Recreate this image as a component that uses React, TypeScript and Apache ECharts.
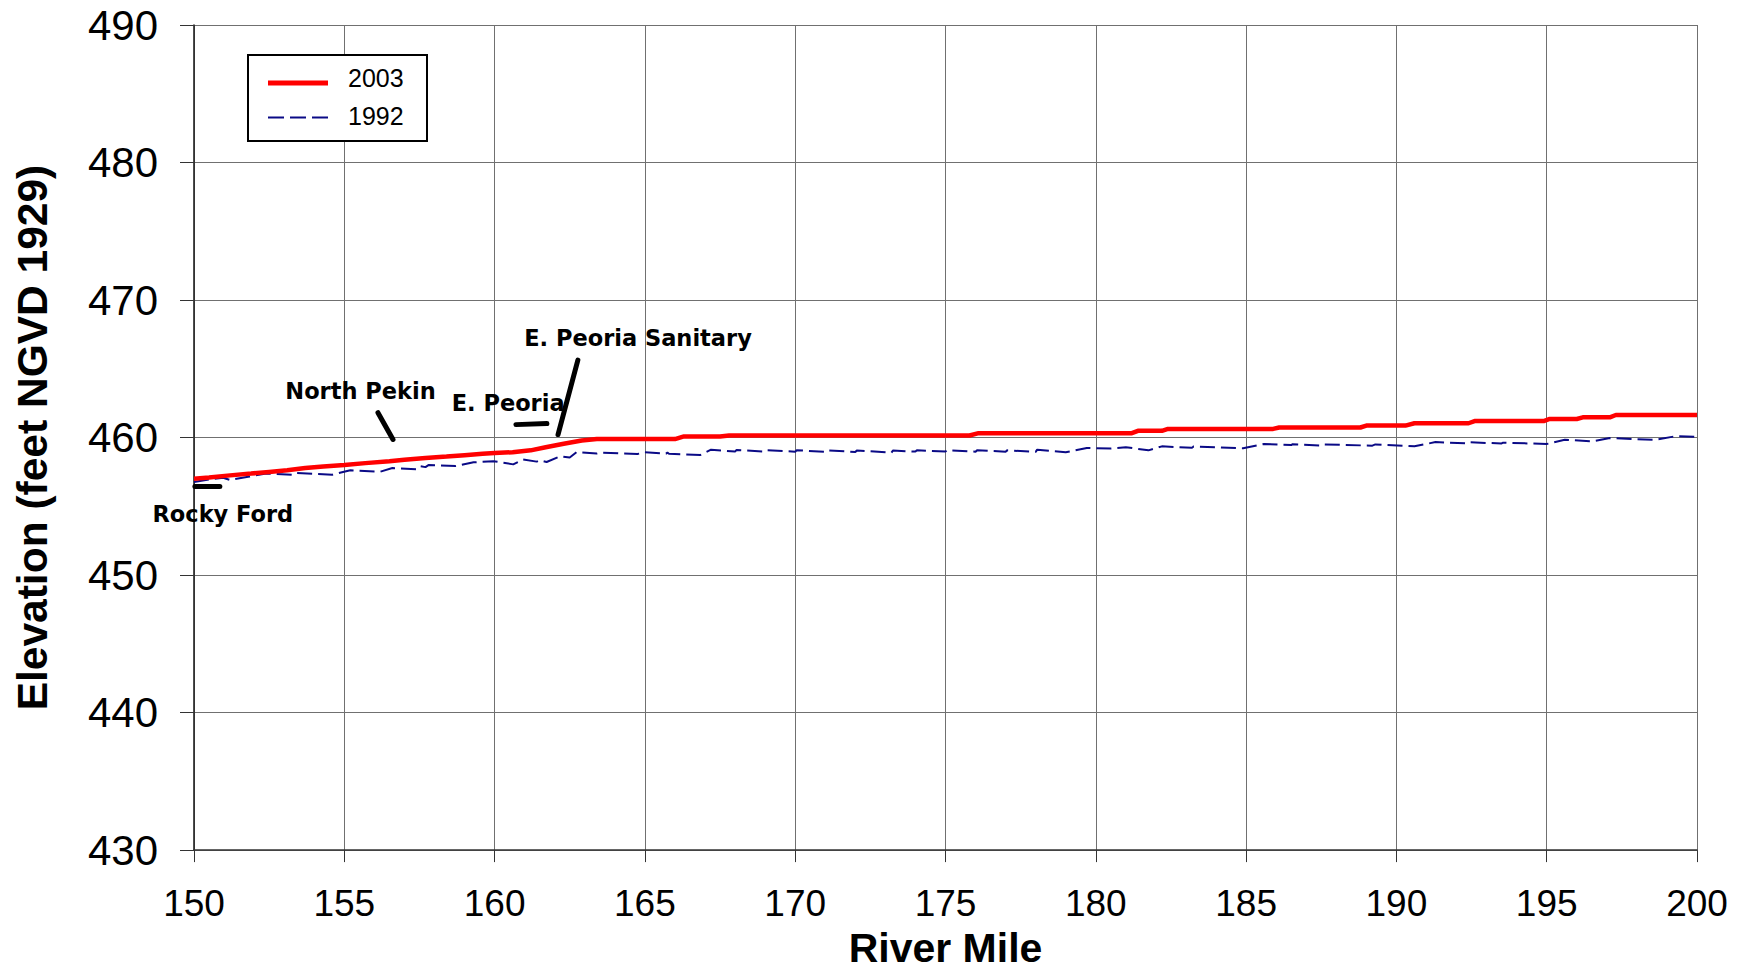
import React, { useEffect, useRef } from "react";
import * as echarts from "echarts";

const xMin = 150;
const xMax = 200;
const xStep = 5;
const yMin = 430;
const yMax = 490;
const yStep = 10;

const seriesNames = ["2003", "1992"];

// 2003 profile: [river mile, elevation]
const elev2003: [number, number][] = [
  [150.0, 457.0], [150.5, 457.1], [151.2, 457.25], [151.9, 457.38], [152.5, 457.5],
  [153.1, 457.62], [153.7, 457.78], [154.3, 457.9], [155.0, 458.0], [155.7, 458.14],
  [156.5, 458.28], [157.0, 458.38], [157.7, 458.52], [158.4, 458.62], [159.0, 458.72],
  [159.6, 458.82], [160.0, 458.88], [160.6, 458.93], [161.2, 459.07], [161.7, 459.3],
  [162.3, 459.55], [162.9, 459.78], [163.4, 459.89], [166.0, 459.89], [166.3, 460.08],
  [167.5, 460.08], [167.8, 460.15], [175.8, 460.15], [176.1, 460.32], [181.2, 460.32],
  [181.4, 460.49], [182.2, 460.49], [182.4, 460.63], [185.9, 460.63], [186.1, 460.73],
  [188.8, 460.73], [189.0, 460.87], [190.3, 460.87], [190.6, 461.04], [192.4, 461.04],
  [192.6, 461.2], [194.9, 461.2], [195.1, 461.35], [196.0, 461.35], [196.2, 461.47],
  [197.1, 461.47], [197.3, 461.64], [200.0, 461.64],
];

// 1992 profile: [river mile, elevation]
const elev1992: [number, number][] = [
  [150.0, 456.76], [150.5, 456.95], [150.97, 457.08], [151.19, 456.92], [151.8, 457.15],
  [152.4, 457.39], [153.3, 457.28], [153.4, 457.42], [154.6, 457.3], [155.2, 457.62],
  [156.2, 457.52], [156.6, 457.78], [157.4, 457.7], [157.5, 457.92], [157.7, 457.85],
  [157.8, 458.0], [158.7, 457.93], [159.3, 458.2], [159.96, 458.28], [160.62, 458.05],
  [160.95, 458.4], [161.4, 458.25], [161.5, 458.35], [161.73, 458.22], [162.18, 458.64],
  [162.5, 458.55], [162.73, 458.95], [163.4, 458.84], [163.5, 458.9], [164.75, 458.8],
  [165.0, 458.93], [165.7, 458.83], [165.75, 458.9], [165.8, 458.82], [166.85, 458.74],
  [167.2, 459.12], [168.0, 458.98], [168.05, 459.1], [169.0, 458.98], [169.05, 459.08],
  [170.0, 458.97], [170.05, 459.08], [171.0, 458.96], [171.05, 459.07], [172.0, 458.95],
  [172.05, 459.06], [173.2, 458.9], [173.25, 459.05], [174.0, 458.98], [174.05, 459.08],
  [175.0, 458.98], [175.05, 459.08], [176.0, 458.97], [176.05, 459.08], [177.0, 458.97],
  [177.05, 459.07], [178.0, 458.96], [178.05, 459.12], [179.0, 458.93], [179.7, 459.24],
  [180.5, 459.2], [181.0, 459.3], [181.75, 459.07], [182.2, 459.36], [183.2, 459.25],
  [183.25, 459.35], [184.9, 459.22], [185.6, 459.53], [186.5, 459.45], [186.55, 459.52],
  [187.5, 459.42], [187.55, 459.5], [189.2, 459.41], [189.3, 459.5], [190.6, 459.36],
  [191.3, 459.67], [192.3, 459.58], [192.35, 459.66], [193.5, 459.57], [193.55, 459.63],
  [195.0, 459.53], [195.6, 459.84], [196.5, 459.72], [197.1, 459.96], [198.0, 459.88],
  [198.6, 459.84], [199.3, 460.1], [200.0, 460.05],
];

// Site labels: [text, mile, elevation] (text centre)
const siteLabels: [string, number, number][] = [
  ["Rocky Ford", 150.96, 454.46],
  ["North Pekin", 155.54, 463.4],
  ["E. Peoria", 160.45, 462.53],
  ["E. Peoria Sanitary", 164.77, 467.22],
];

// Leader lines: [mile1, elev1, mile2, elev2]
const leaders: [number, number, number, number][] = [
  [150.03, 456.44, 150.86, 456.44],
  [156.12, 461.81, 156.62, 459.86],
  [160.71, 460.94, 161.74, 461.02],
  [162.77, 465.63, 162.11, 460.22],
];

const redColor = "#ff0000";
const blueColor = "#0a0a86";

export default function App() {
  const ref = useRef<HTMLDivElement>(null);

  useEffect(() => {
    if (!ref.current) return;
    const chart = echarts.init(ref.current, null, { renderer: "svg" });
    const axisFont = "Liberation Sans, Arial, sans-serif";
    chart.setOption({
      animation: false,
      backgroundColor: "#ffffff",
      grid: { left: 194, top: 25, right: 46, bottom: 116, containLabel: false },
      xAxis: {
        type: "value",
        min: xMin,
        max: xMax,
        interval: xStep,
        name: "River Mile",
        nameLocation: "middle",
        nameGap: 75,
        nameTextStyle: { fontFamily: axisFont, fontWeight: "bold", fontSize: 41, color: "#000" },
        axisLine: { show: true, onZero: false, lineStyle: { color: "#333", width: 1.6 } },
        axisTick: { show: true, length: 12, lineStyle: { color: "#333", width: 1 } },
        axisLabel: { fontFamily: axisFont, fontSize: 37, color: "#000", margin: 35 },
        splitLine: { show: true, lineStyle: { color: "#707070", width: 1 } },
      },
      yAxis: {
        type: "value",
        min: yMin,
        max: yMax,
        interval: yStep,
        name: "Elevation (feet NGVD 1929)",
        nameLocation: "middle",
        nameGap: 140,
        nameTextStyle: { fontFamily: axisFont, fontWeight: "bold", fontSize: 42.5, color: "#000" },
        axisLine: { show: true, onZero: false, lineStyle: { color: "#222", width: 1.6 } },
        axisTick: { show: true, length: 14, lineStyle: { color: "#333", width: 1 } },
        axisLabel: { fontFamily: axisFont, fontSize: 42, color: "#000", margin: 36 },
        splitLine: { show: true, lineStyle: { color: "#707070", width: 1 } },
      },
      series: [
        {
          name: seriesNames[0],
          type: "line",
          data: elev2003,
          showSymbol: false,
          symbol: "none",
          lineStyle: { color: redColor, width: 4.5 },
          z: 3,
        },
        {
          name: seriesNames[1],
          type: "line",
          data: elev1992,
          showSymbol: false,
          symbol: "none",
          lineStyle: { color: blueColor, width: 2, type: [15, 6] },
          z: 2,
        },
      ],
    });

    const toPx = (m: number, e: number) =>
      chart.convertToPixel({ gridIndex: 0 }, [m, e]) as number[];

    const graphics: any[] = [];
    leaders.forEach(([m1, e1, m2, e2]) => {
      const a = toPx(m1, e1);
      const b = toPx(m2, e2);
      graphics.push({
        type: "line",
        shape: { x1: a[0], y1: a[1], x2: b[0], y2: b[1] },
        style: { stroke: "#000", lineWidth: 5, lineCap: "round" },
        z: 10,
      });
    });
    siteLabels.forEach(([t, m, e]) => {
      const p = toPx(m, e);
      graphics.push({
        type: "text",
        x: p[0],
        y: p[1],
        style: {
          text: t,
          fontFamily: "DejaVu Sans",
          fontWeight: "bold",
          fontSize: 22.5,
          fill: "#000",
          align: "center",
          verticalAlign: "middle",
        },
        z: 10,
      });
    });

    // legend box
    graphics.push({
      type: "rect",
      shape: { x: 248, y: 55, width: 179, height: 86 },
      style: { fill: "#fff", stroke: "#000", lineWidth: 2 },
      z: 20,
    });
    graphics.push({
      type: "line",
      shape: { x1: 268, y1: 83, x2: 328, y2: 83 },
      style: { stroke: redColor, lineWidth: 5 },
      z: 21,
    });
    graphics.push({
      type: "line",
      shape: { x1: 268, y1: 117.5, x2: 330, y2: 117.5 },
      style: { stroke: blueColor, lineWidth: 2, lineDash: [16, 6] },
      z: 21,
    });
    [seriesNames[0], seriesNames[1]].forEach((n, i) => {
      graphics.push({
        type: "text",
        x: 348,
        y: i === 0 ? 78 : 116,
        style: {
          text: n,
          fontFamily: axisFont,
          fontSize: 25,
          fill: "#000",
          align: "left",
          verticalAlign: "middle",
        },
        z: 21,
      });
    });

    chart.setOption({ graphic: graphics });

    return () => chart.dispose();
  }, []);

  return (
    <div
      ref={ref}
      style={{ position: "fixed", left: 0, top: 0, width: 1743, height: 973, background: "#fff" }}
    />
  );
}
